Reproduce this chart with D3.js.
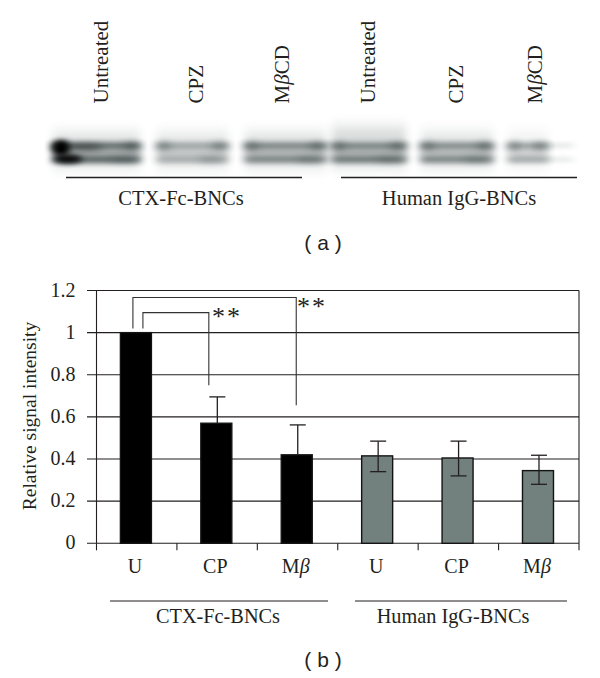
<!DOCTYPE html>
<html><head><meta charset="utf-8">
<style>html,body{margin:0;padding:0;background:#fff}svg{display:block}text{font-family:"Liberation Serif",serif;fill:#231f20}</style>
<script src="https://cdn.jsdelivr.net/npm/d3@7/dist/d3.min.js"></script>
</head><body><svg id="c" width="600" height="678"></svg>
<script>
const categories = ["U","CP","Mβ","U","CP","Mβ"];
const values = [1, 0.57, 0.42, 0.415, 0.405, 0.345];
const errHigh = [null, 0.695, 0.562, 0.485, 0.485, 0.418];
const errLow = [null, null, null, 0.34, 0.32, 0.28];
const barColors = ["#000","#000","#000","#72807e","#72807e","#72807e"];
const yTicks = [0,0.2,0.4,0.6,0.8,1,1.2];
const groupNames = ["CTX-Fc-BNCs","Human IgG-BNCs"];
const laneNames = ["Untreated","CPZ","MβCD","Untreated","CPZ","MβCD"];
const laneUpper = [0.50,0.26,0.38,0.36,0.36,0.28];
const laneLower = [0.58,0.22,0.40,0.46,0.42,0.28];
const laneMid = [0.30,0.14,0.22,0.24,0.20,0.14];
const laneHaze = [0.18,0.15,0.18,0.20,0.17,0.08];

const svg = d3.select("#c");
const x = d3.scaleBand().domain(d3.range(6)).range([96.5,579]);
const y = d3.scaleLinear().domain([0,1.2]).range([543.3,290.5]);
const ink = "#231f20";

const defs = svg.append("defs");
const mk=(id,sd)=>defs.append("filter").attr("id",id).attr("x","-40%").attr("y","-200%").attr("width","180%").attr("height","500%")
  .append("feGaussianBlur").attr("stdDeviation",sd);
mk("b1","4 2.6"); mk("b2","4 7"); mk("b3","4 3"); mk("b4","3.5 2.8");
const laneX = d3.scaleOrdinal().domain(d3.range(6)).range([50,154,242,329,418,505]);
const laneW = d3.scaleOrdinal().domain(d3.range(6)).range([93,77,87,80,78,46]);
const blot = svg.append("g");
d3.range(6).forEach(i=>{
  const X=laneX(i), W=laneW(i);
  blot.append("rect").attr("x",X+3).attr("y",i===3?127:133).attr("width",W-6).attr("height",i===3?40:34)
    .attr("fill","#3d4a4a").attr("opacity",laneHaze[i]).attr("filter","url(#b2)");
  blot.append("rect").attr("x",X+3).attr("y",143).attr("width",W-6).attr("height",20)
    .attr("fill","#2a3636").attr("opacity",laneMid[i]).attr("filter","url(#b1)");
  blot.append("rect").attr("x",X+3).attr("y",142.5).attr("width",W-6).attr("height",6)
    .attr("fill","#1e2a2a").attr("opacity",laneUpper[i]).attr("filter","url(#b1)");
  blot.append("rect").attr("x",X+3).attr("y",156.5).attr("width",W-6).attr("height",6)
    .attr("fill","#1e2a2a").attr("opacity",laneLower[i]).attr("filter","url(#b1)");
  blot.append("ellipse").attr("cx",X+9).attr("cy",146).attr("rx",8).attr("ry",4)
    .attr("fill","#1e2a2a").attr("opacity",0.35).attr("filter","url(#b3)");
  blot.append("ellipse").attr("cx",X+W-11).attr("cy",146).attr("rx",9).attr("ry",3.5)
    .attr("fill","#1e2a2a").attr("opacity",0.4).attr("filter","url(#b3)");
  blot.append("ellipse").attr("cx",X+W-20).attr("cy",159.5).attr("rx",13).attr("ry",3)
    .attr("fill","#1e2a2a").attr("opacity",i===5?0:0.25).attr("filter","url(#b3)");
});
blot.append("ellipse").attr("cx",61).attr("cy",148).attr("rx",9).attr("ry",8).attr("fill","#000").attr("filter","url(#b4)");
blot.append("ellipse").attr("cx",68).attr("cy",159).attr("rx",14).attr("ry",4.5).attr("fill","#000").attr("opacity",.9).attr("filter","url(#b4)");
blot.append("ellipse").attr("cx",85).attr("cy",147).attr("rx",18).attr("ry",3).attr("fill","#000").attr("opacity",.45).attr("filter","url(#b3)");
blot.append("rect").attr("x",545).attr("y",144).attr("width",28).attr("height",3).attr("fill","#1e2a2a").attr("opacity",.18).attr("filter","url(#b1)");
blot.append("rect").attr("x",545).attr("y",158).attr("width",28).attr("height",3).attr("fill","#1e2a2a").attr("opacity",.16).attr("filter","url(#b1)");

const laneLabelX = [108,202.5,289,375,462.5,542];
laneNames.forEach((t,i)=>{
  const g = svg.append("text").attr("transform",`translate(${laneLabelX[i]},103.5) rotate(-90)`).attr("font-size",21);
  if(t.includes("β")){
    const [a,b]=t.split("β");
    g.append("tspan").text(a); g.append("tspan").attr("font-style","italic").text("β"); g.append("tspan").text(b);
  } else g.text(t);
});
const topRules=[[66,302],[341,577]], topMid=[181,459];
topRules.forEach((r,i)=>{
  svg.append("line").attr("x1",r[0]).attr("x2",r[1]).attr("y1",177.5).attr("y2",177.5).attr("stroke",ink).attr("stroke-width",1.3);
  svg.append("text").attr("x",topMid[i]).attr("y",205).attr("text-anchor","middle").attr("font-size",20.5).text(groupNames[i]);
});
svg.append("text").attr("x",323).attr("y",250).attr("text-anchor","middle").attr("font-size",21).style("font-family","Liberation Sans").text("( a )");

const grid = svg.append("g");
grid.selectAll("line").data(yTicks).join("line")
  .attr("x1",87).attr("x2",579).attr("y1",d=>y(d)).attr("y2",d=>y(d)).attr("stroke",ink).attr("stroke-width",1.1);
svg.append("line").attr("x1",96.5).attr("x2",96.5).attr("y1",y(1.2)).attr("y2",y(0)).attr("stroke",ink).attr("stroke-width",1.1);
svg.append("line").attr("x1",579).attr("x2",579).attr("y1",y(1.2)).attr("y2",y(0)).attr("stroke",ink).attr("stroke-width",1.1);
svg.append("g").selectAll("line").data(d3.range(7)).join("line")
  .attr("x1",d=>96.5+d*x.bandwidth()).attr("x2",d=>96.5+d*x.bandwidth()).attr("y1",y(0)).attr("y2",y(0)+7).attr("stroke",ink).attr("stroke-width",1.1);
svg.append("g").selectAll("text").data(yTicks).join("text")
  .attr("x",75.5).attr("y",d=>y(d)+6).attr("text-anchor","end").attr("font-size",20).text(d=>d);
svg.append("text").attr("transform","translate(36,416) rotate(-90)").attr("text-anchor","middle").attr("font-size",19.5).text("Relative signal intensity");

const barW = 31;
const cCenter=i=>x(i)+x.bandwidth()/2-0.8;
svg.append("g").selectAll("rect").data(values).join("rect")
  .attr("x",(d,i)=>cCenter(i)-barW/2).attr("width",barW)
  .attr("y",d=>y(d)).attr("height",d=>y(0)-y(d))
  .attr("fill",(d,i)=>barColors[i]).attr("stroke","#141414").attr("stroke-width",1.4);

const e = svg.append("g").attr("stroke",ink).attr("stroke-width",1.3);
values.forEach((v,i)=>{
  if(errHigh[i]===null) return;
  const cx=cCenter(i)+1;
  const lo=errLow[i]===null?v:errLow[i];
  e.append("line").attr("x1",cx).attr("x2",cx).attr("y1",y(errHigh[i])).attr("y2",y(lo));
  e.append("line").attr("x1",cx-8).attr("x2",cx+8).attr("y1",y(errHigh[i])).attr("y2",y(errHigh[i]));
  if(errLow[i]!==null) e.append("line").attr("x1",cx-8).attr("x2",cx+8).attr("y1",y(lo)).attr("y2",y(lo));
});

const br = svg.append("g").attr("fill","none").attr("stroke","#333").attr("stroke-width",1.1);
br.append("path").attr("d",`M${cCenter(0)-3},${y(1.02)}V${y(1.167)}H${cCenter(2)-.5}V${y(0.655)}`);
br.append("path").attr("d",`M${cCenter(0)+7},${y(1.02)}V${y(1.095)}H${cCenter(1)-7.5}V${y(0.75)}`);
svg.append("text").attr("x",212).attr("y",325).attr("font-size",26).attr("letter-spacing",2).text("**");
svg.append("text").attr("x",297).attr("y",315).attr("font-size",26).attr("letter-spacing",2).text("**");

const labels=svg.append("g").selectAll("text").data(categories).join("text")
  .attr("x",(d,i)=>cCenter(i)-1).attr("y",573).attr("text-anchor","middle").attr("font-size",20);
labels.each(function(d){
  const t=d3.select(this);
  if(d.includes("β")){t.append("tspan").text("M");t.append("tspan").attr("font-style","italic").text("β");}
  else t.text(d);
});
const botRules=[[110,328],[355,567]], botMid=[218,453];
botRules.forEach((r,i)=>{
  svg.append("line").attr("x1",r[0]).attr("x2",r[1]).attr("y1",601).attr("y2",601).attr("stroke",ink).attr("stroke-width",1.1);
  svg.append("text").attr("x",botMid[i]).attr("y",623).attr("text-anchor","middle").attr("font-size",20.3).text(groupNames[i]);
});
svg.append("text").attr("x",323).attr("y",667).attr("text-anchor","middle").attr("font-size",21).style("font-family","Liberation Sans").text("( b )");
</script></body></html>
